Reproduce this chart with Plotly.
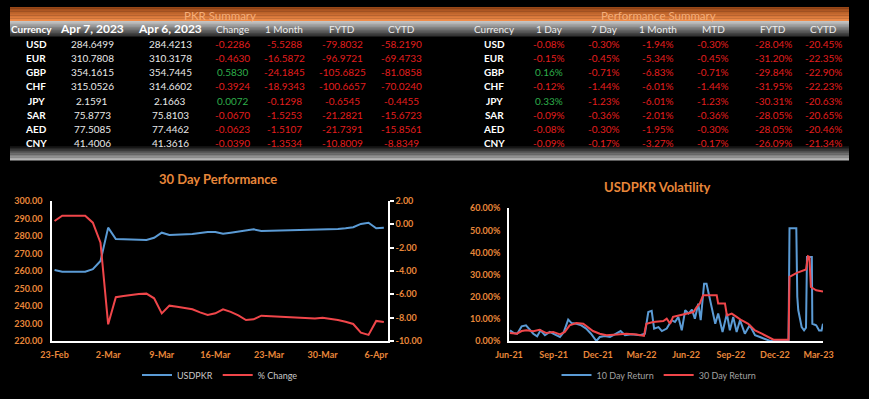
import plotly.graph_objects as go
import pandas as pd

W, H = 869, 399
ORANGE = "#E8873A"
BLUE = "#5B9BD5"
RED = "#F0464A"
TXT_RED = "#E31E1E"
TXT_GREEN = "#2EAF4A"
FONT = "Lato"

# ---------------- table data ----------------
currencies = ["USD", "EUR", "GBP", "CHF", "JPY", "SAR", "AED", "CNY"]
rate_apr7 = [284.6499, 310.7808, 354.1615, 315.0526, 2.1591, 75.8773, 77.5085, 41.4006]
rate_apr6 = [284.4213, 310.3178, 354.7445, 314.6602, 2.1663, 75.8103, 77.4462, 41.3616]
chg = [-0.2286, -0.4630, 0.5830, -0.3924, 0.0072, -0.0670, -0.0623, -0.0390]
one_month = [-5.5288, -16.5872, -24.1845, -18.9343, -0.1298, -1.5253, -1.5107, -1.3534]
fytd = [-79.8032, -96.9721, -105.6825, -100.6657, -0.6545, -21.2821, -21.7391, -10.8009]
cytd = [-58.2190, -69.4733, -81.0858, -70.0240, -0.4455, -15.6723, -15.8561, -8.8349]

perf_1d = [-0.08, -0.15, 0.16, -0.12, 0.33, -0.09, -0.08, -0.09]
perf_7d = [-0.30, -0.45, -0.71, -1.44, -1.23, -0.36, -0.30, -0.17]
perf_1m = [-1.94, -5.34, -6.83, -6.01, -6.01, -2.01, -1.95, -3.27]
perf_mtd = [-0.30, -0.45, -0.71, -1.44, -1.23, -0.36, -0.30, -0.17]
perf_fytd = [-28.04, -31.20, -29.84, -31.95, -30.31, -28.05, -28.05, -26.09]
perf_cytd = [-20.45, -22.35, -22.90, -22.23, -20.63, -20.65, -20.46, -21.34]

pkr_headers = ["Currency", "Apr 7, 2023", "Apr 6, 2023", "Change", "1 Month", "FYTD", "CYTD"]
perf_headers = ["Currency", "1 Day", "7 Day", "1 Month", "MTD", "FYTD", "CYTD"]

# ---------------- 30 day performance ----------------
perf_dates = pd.date_range("2023-02-23", "2023-04-07", freq="D")
usdpkr = [260.6, 259.6, 259.6, 259.6, 259.6, 261.0, 265.7, 284.8, 278.3, 278.1,
          278.0, 277.8, 277.7, 279.0, 281.9, 280.6, 280.7, 280.9, 281.1, 281.7,
          282.3, 282.3, 281.3, 281.9, 282.5, 283.4, 283.8, 282.9, 283.0, 283.0,
          283.1, 283.1, 283.2, 283.3, 283.3, 283.4, 283.6, 284.0, 284.4, 285.0,
          286.9, 287.6, 284.4213, 284.6499]
pct_change = [0.29, 0.74, 0.74, 0.74, 0.74, 0.14, -1.57, -8.57, -6.25, -6.15,
              -6.05, -5.98, -5.94, -6.34, -7.63, -6.97, -7.07, -7.17, -7.28, -7.55,
              -7.77, -7.63, -7.28, -7.50, -7.80, -8.20, -8.14, -7.83, -7.86, -7.90,
              -7.92, -7.95, -7.98, -8.05, -8.08, -8.00, -8.08, -8.20, -8.35, -8.54,
              -9.28, -9.48, -8.28, -8.37]
perf_tick_dates = ["2023-02-23", "2023-03-02", "2023-03-09", "2023-03-16",
                   "2023-03-23", "2023-03-30", "2023-04-06"]
left_ticks = [220, 230, 240, 250, 260, 270, 280, 290, 300]
right_ticks = [-10, -8, -6, -4, -2, 0, 2]

# ---------------- volatility ----------------
vol10_dates = ["2021-06-03", "2021-06-11", "2021-06-18", "2021-06-27", "2021-07-06", "2021-07-13",
               "2021-07-21", "2021-07-29", "2021-08-05", "2021-08-14", "2021-08-24", "2021-09-03",
               "2021-09-14", "2021-09-22", "2021-10-01", "2021-10-08", "2021-10-18", "2021-10-28",
               "2021-11-07", "2021-11-17", "2021-11-28", "2021-12-05", "2021-12-15", "2021-12-26",
               "2022-01-09", "2022-01-17", "2022-01-26", "2022-02-09", "2022-02-26", "2022-03-08",
               "2022-03-15", "2022-03-22", "2022-03-27", "2022-04-05", "2022-04-12", "2022-04-22",
               "2022-05-02", "2022-05-09", "2022-05-16", "2022-05-23", "2022-05-30", "2022-06-06",
               "2022-06-13", "2022-06-19", "2022-06-26", "2022-07-01", "2022-07-08", "2022-07-13",
               "2022-07-19", "2022-07-24", "2022-07-31", "2022-08-06", "2022-08-15", "2022-08-24",
               "2022-08-30", "2022-09-06", "2022-09-13", "2022-09-20", "2022-09-30", "2022-10-10",
               "2022-10-21", "2022-10-31", "2022-11-10", "2022-11-21", "2022-12-29", "2022-12-31",
               "2023-01-14", "2023-01-16", "2023-01-18", "2023-01-25", "2023-01-30", "2023-02-03",
               "2023-02-05", "2023-02-15", "2023-02-16", "2023-02-24", "2023-03-02", "2023-03-07",
               "2023-03-10"]
vol10 = [4.8, 3.6, 3.3, 6.6, 7.1, 5.1,
         3.3, 2.1, 4.8, 2.6, 4.1, 3.0,
         1.8, 4.1, 9.7, 8.1, 7.8, 7.1,
         5.6, 3.3, 0.0, 1.8, 2.3, 1.8,
         3.3, 4.5, 2.6, 3.0, 2.6, 3.3,
         13.1, 13.6, 5.6, 6.3, 4.5, 5.6,
         9.4, 8.6, 10.9, 4.8, 13.9, 12.4,
         14.2, 10.1, 16.9, 9.4, 25.9, 25.9,
         19.9, 15.4, 7.8, 12.4, 4.1, 12.4,
         4.8, 10.9, 4.1, 9.4, 3.3, 7.1,
         2.6, 1.8, 1.1, 0.0, 0.0, 51.0,
         51.0, 20.0, 14.0, 6.3, 4.8, 6.0,
         38.0, 38.0, 7.8, 7.1, 4.8, 4.8,
         7.8]
vol30_dates = ["2021-06-03", "2021-06-17", "2021-06-27", "2021-07-07", "2021-07-21", "2021-08-03",
               "2021-08-17", "2021-08-31", "2021-09-14", "2021-09-24", "2021-10-04", "2021-10-18",
               "2021-11-01", "2021-11-11", "2021-11-21", "2021-12-05", "2021-12-19", "2022-01-09",
               "2022-01-29", "2022-02-19", "2022-03-06", "2022-03-11", "2022-03-25", "2022-04-15",
               "2022-04-22", "2022-04-29", "2022-05-05", "2022-05-19", "2022-06-02", "2022-06-16",
               "2022-06-23", "2022-06-29", "2022-07-06", "2022-08-03", "2022-08-06", "2022-08-20",
               "2022-08-24", "2022-09-03", "2022-09-13", "2022-09-23", "2022-10-07", "2022-10-21",
               "2022-11-04", "2022-11-18", "2022-11-28", "2022-12-29", "2022-12-31", "2023-01-15",
               "2023-01-29", "2023-02-03", "2023-02-07", "2023-02-10", "2023-02-13", "2023-02-24",
               "2023-03-10"]
vol30 = [3.6, 3.3, 4.5, 4.8, 4.4, 5.1,
         3.6, 4.1, 3.0, 4.1, 7.1, 8.1,
         7.8, 6.3, 4.5, 3.3, 2.6, 2.9,
         3.3, 2.9, 2.3, 7.8, 8.6, 9.0,
         10.1, 7.8, 10.9, 11.6, 12.4, 13.1,
         15.4, 16.9, 20.7, 20.7, 16.9, 16.9,
         11.6, 12.4, 10.9, 9.4, 7.8, 4.8,
         3.3, 1.8, 0.6, 0.6, 29.0, 30.8,
         31.7, 32.3, 38.3, 38.0, 24.4, 22.9,
         22.4]
vol_tick_dates = ["2021-06-01", "2021-09-01", "2021-12-01", "2022-03-01",
                  "2022-06-01", "2022-09-01", "2022-12-01", "2023-03-01"]
vol_ticks = [0, 10, 20, 30, 40, 50, 60]


def px(x):
    return x / W


def py(y):
    return 1 - y / H


def lerp(c0, c1, t):
    a = [int(c0[i:i + 2], 16) for i in (1, 3, 5)]
    b = [int(c1[i:i + 2], 16) for i in (1, 3, 5)]
    return "#" + "".join(f"{round(a[k] + (b[k] - a[k]) * t):02x}" for k in range(3))


fig = go.Figure()


def gradient(x0, y0, x1, y1, c_top, c_bot, n=8):
    step = (y1 - y0) / n
    for i in range(n):
        t = i / (n - 1)
        fig.add_shape(type="rect", xref="paper", yref="paper",
                      x0=px(x0), x1=px(x1), y0=py(y0 + (i + 1) * step + 0.4), y1=py(y0 + i * step),
                      fillcolor=lerp(c_top, c_bot, t), line_width=0, layer="below")


def text(x, y, s, size=10, color="#ffffff", bold=False):
    fig.add_annotation(x=px(x), y=py(y), xref="paper", yref="paper", showarrow=False,
                       text=f"<b>{s}</b>" if bold else s, xanchor="center", yanchor="middle",
                       font=dict(family=FONT, size=size, color=color))


# header bars
gradient(10, 7, 849, 21, "#9a4716", "#f08c4a", 10)
gradient(10, 21, 849, 36, "#c4c4c4", "#333333", 10)
gradient(10, 146, 849, 160, "#111111", "#b4b4b4", 10)

text(220, 15, "PKR Summary", 11.5, "#f6ae78")
text(658, 15, "Performance Summary", 11.5, "#f6ae78")

pkr_x = [33, 92, 170, 233, 284, 342, 401]
perf_x = [494, 549, 604, 658, 713, 773, 823]
hy = 29
for i, h in enumerate(pkr_headers):
    if i == 0:
        text(pkr_x[i] - 2, hy, h, 10, "#ffffff", True)
    elif i in (1, 2):
        text(pkr_x[i], hy, h, 12, "#ffffff", True)
    else:
        text(pkr_x[i], hy, h, 10, "#eeeeee")
for i, h in enumerate(perf_headers):
    text(perf_x[i], hy, h, 10, "#eeeeee")


def col(v):
    return TXT_GREEN if v > 0 else TXT_RED


for r, cur in enumerate(currencies):
    y = 44 + r * 14.15
    text(pkr_x[0] + 3, y, cur, 10, "#ffffff", True)
    text(pkr_x[1], y, f"{rate_apr7[r]:.4f}", 10, "#e8e8e8")
    text(pkr_x[2], y, f"{rate_apr6[r]:.4f}", 10, "#e8e8e8")
    for c, arr in zip(pkr_x[3:], [chg, one_month, fytd, cytd]):
        text(c, y, f"{arr[r]:.4f}", 10, col(arr[r]))
    text(perf_x[0], y, cur, 10, "#ffffff", True)
    for c, arr in zip(perf_x[1:], [perf_1d, perf_7d, perf_1m, perf_mtd, perf_fytd, perf_cytd]):
        text(c, y, f"{arr[r]:.2f}%", 10, col(arr[r]))

# chart titles
text(218, 179, "30 Day Performance", 13, ORANGE, True)
text(657, 187, "USDPKR Volatility", 13, ORANGE, True)

# traces
fig.add_trace(go.Scatter(x=perf_dates, y=usdpkr, name="USDPKR", mode="lines",
                         line=dict(color=BLUE, width=2), xaxis="x", yaxis="y", legend="legend"))
fig.add_trace(go.Scatter(x=perf_dates, y=pct_change, name="% Change", mode="lines",
                         line=dict(color=RED, width=2), xaxis="x", yaxis="y2", legend="legend"))
fig.add_trace(go.Scatter(x=vol10_dates, y=vol10, name="10 Day Return", mode="lines",
                         line=dict(color=BLUE, width=2), xaxis="x3", yaxis="y3", legend="legend2"))
fig.add_trace(go.Scatter(x=vol30_dates, y=vol30, name="30 Day Return", mode="lines",
                         line=dict(color=RED, width=2), xaxis="x3", yaxis="y3", legend="legend2"))

tickfont = dict(family=FONT, size=9, color=ORANGE, weight="bold")
ax_common = dict(showgrid=False, zeroline=False, showline=True, linecolor="#ffffff",
                 linewidth=1.5, tickfont=tickfont, fixedrange=True, automargin=False)

fig.update_layout(
    template="none",
    width=W, height=H, autosize=False,
    margin=dict(l=0, r=0, t=0, b=0, pad=0),
    paper_bgcolor="#000000", plot_bgcolor="#000000",
    font=dict(family=FONT),
    xaxis=dict(domain=[px(52), px(388)], anchor="y", type="date",
               range=["2023-02-22 16:00", "2023-04-07 13:00"],
               tickvals=perf_tick_dates, tickformat="%-d-%b", ticks="",
               ticklabelstandoff=4, **ax_common),
    yaxis=dict(domain=[py(341), py(201)], anchor="x", range=[220, 300],
               tickvals=left_ticks, ticktext=[f"{v:.2f}" for v in left_ticks], ticks="",
               ticklabelstandoff=6, **ax_common),
    yaxis2=dict(overlaying="y", side="right", anchor="x", range=[-10, 2],
                tickvals=right_ticks, ticktext=[f"{v:.2f}" for v in right_ticks],
                ticks="outside", ticklen=4, tickcolor="#ffffff", tickwidth=1.5, **ax_common),
    xaxis3=dict(domain=[px(509), px(823)], anchor="y3", type="date",
                range=["2021-06-01", "2023-03-10"],
                tickvals=vol_tick_dates, tickformat="%b-%y", ticks="",
                ticklabelstandoff=4, **ax_common),
    yaxis3=dict(domain=[py(341), py(208.3)], anchor="x3", range=[0, 60],
                tickvals=vol_ticks, ticktext=[f"{v:.2f}%" for v in vol_ticks], ticks="",
                ticklabelstandoff=5, **ax_common),
    legend=dict(orientation="h", x=px(220), xanchor="center", y=py(375), yanchor="middle",
                font=dict(family=FONT, size=9, color="#c8c8c8"), bgcolor="rgba(0,0,0,0)",
                itemwidth=30, tracegroupgap=0),
    legend2=dict(orientation="h", x=px(659), xanchor="center", y=py(375), yanchor="middle",
                 font=dict(family=FONT, size=9, color="#a0a0a0"), bgcolor="rgba(0,0,0,0)",
                 itemwidth=30, tracegroupgap=0),
    showlegend=True,
)

fig.write_html("out.html", config={"displayModeBar": False},
               post_script="document.body.style.margin='0';document.body.style.background='#000';")
